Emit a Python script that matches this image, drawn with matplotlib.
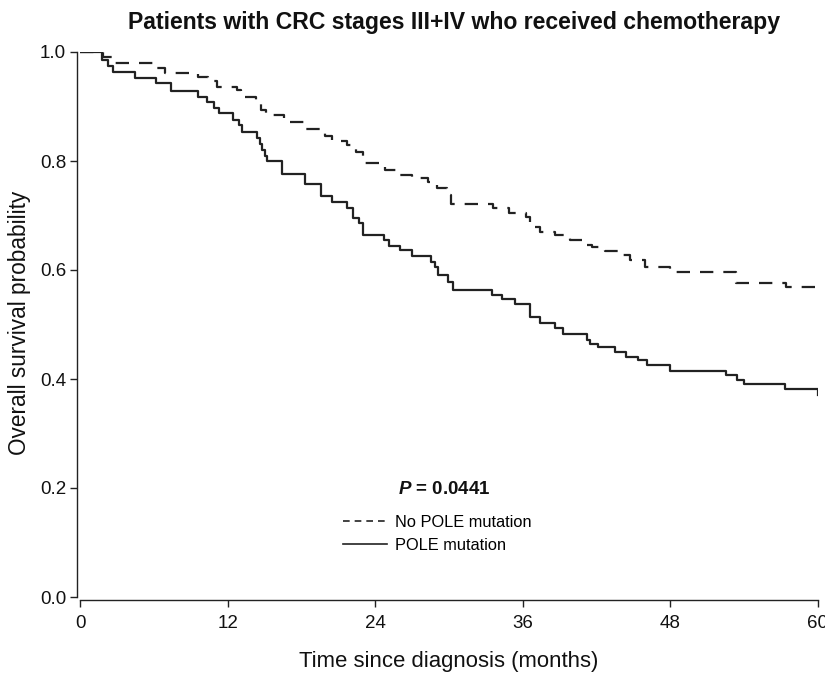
import matplotlib
matplotlib.use("Agg")
import matplotlib.pyplot as plt
from matplotlib.lines import Line2D

# Kaplan-Meier steps: (months, survival after the drop)
pole_t = [0, 1.8, 2.3, 2.7, 4.5, 6.2, 7.4, 9.6, 10.3, 10.9, 11.3, 12.4, 12.9, 13.2,
          14.4, 14.6, 14.8, 15.0, 15.2, 16.4, 18.3, 19.6, 20.5, 21.7, 22.2, 22.7,
          23.0, 24.7, 25.1, 26.0, 27.0, 28.5, 28.9, 29.1, 29.9, 30.3, 33.5, 34.3,
          35.4, 36.6, 37.4, 38.6, 39.3, 41.2, 41.5, 42.1, 43.5, 44.4, 45.4, 46.1,
          48.0, 52.5, 53.4, 54.0, 57.3, 60.0]
pole_s = [1.0, 0.985, 0.974, 0.963, 0.953, 0.943, 0.929, 0.918, 0.908, 0.898, 0.888,
          0.876, 0.866, 0.854, 0.842, 0.831, 0.820, 0.810, 0.800, 0.777, 0.758, 0.735,
          0.725, 0.714, 0.695, 0.686, 0.664, 0.655, 0.644, 0.637, 0.626, 0.615, 0.606,
          0.591, 0.578, 0.563, 0.555, 0.547, 0.537, 0.513, 0.502, 0.493, 0.483, 0.472,
          0.465, 0.458, 0.450, 0.441, 0.434, 0.425, 0.415, 0.407, 0.398, 0.391, 0.382,
          0.371]

nopole_t = [0, 1.9, 2.6, 6.0, 6.9, 9.6, 10.4, 11.1, 12.8, 13.1, 14.3, 14.7, 15.1,
            16.6, 18.4, 19.9, 20.5, 21.7, 22.4, 23.0, 24.8, 26.0, 27.0, 28.3, 29.0,
            29.8, 30.2, 33.6, 34.9, 36.3, 36.6, 37.4, 38.6, 39.8, 41.1, 41.6, 42.7,
            43.7, 44.7, 45.9, 48.0, 53.3, 57.4, 60.0]
nopole_s = [1.0, 0.990, 0.979, 0.970, 0.961, 0.955, 0.946, 0.936, 0.930, 0.918, 0.907,
            0.894, 0.884, 0.872, 0.858, 0.845, 0.836, 0.829, 0.817, 0.796, 0.783, 0.774,
            0.768, 0.762, 0.750, 0.738, 0.721, 0.713, 0.705, 0.698, 0.679, 0.670, 0.664,
            0.655, 0.646, 0.643, 0.635, 0.627, 0.619, 0.605, 0.597, 0.577, 0.568, 0.568]

x_ticks = [0, 12, 24, 36, 48, 60]
y_ticks = [0.0, 0.2, 0.4, 0.6, 0.8, 1.0]

W, H = 825, 673
font = ["Liberation Sans", "DejaVu Sans"]
ink = "#222222"

plt.rcParams["font.family"] = font
plt.rcParams["mathtext.fontset"] = "custom"
plt.rcParams["mathtext.it"] = "Liberation Sans:italic:bold"
plt.rcParams["mathtext.rm"] = "Liberation Sans:bold"

fig = plt.figure(figsize=(W / 100, H / 100), dpi=100)
ax = fig.add_axes([80 / W, 1 - 597 / H, (818 - 80) / W, (597 - 52) / H])

ax.step(nopole_t, nopole_s, where="post", color=ink, lw=1.6, dashes=(6.0, 4.5),
        label="No POLE mutation")
ax.step(pole_t, pole_s, where="post", color=ink, lw=1.6, label="POLE mutation")

ax.set_xlim(0, 60)
ax.set_ylim(0, 1)
ax.set_xticks(x_ticks)
ax.set_yticks(y_ticks)
ax.set_xticklabels([str(v) for v in x_ticks])
ax.set_yticklabels(["%.1f" % v for v in y_ticks])
ax.tick_params(direction="out", length=5, width=1.0, color=ink,
               labelsize=13.5, labelcolor="#111111")
ax.tick_params(axis="x", pad=6)
ax.tick_params(axis="y", pad=3)

for side in ["top", "right"]:
    ax.spines[side].set_visible(False)
for side in ["left", "bottom"]:
    ax.spines[side].set_position(("outward", 2))
    ax.spines[side].set_color(ink)
    ax.spines[side].set_linewidth(1.0)

fig.text(454 / W, 1 - 22 / H, "Patients with CRC stages III+IV who received chemotherapy",
         ha="center", va="center", fontsize=16.6, fontweight="bold", color="#111111")
fig.text(449 / W, 1 - 662 / H, "Time since diagnosis (months)", ha="center", va="center",
         fontsize=15.9, color="#111111")
fig.text(20 / W, 1 - 323 / H, "Overall survival probability", ha="center", va="center",
         rotation=90, fontsize=16.3, color="#111111")

fig.text(444 / W, 1 - 490 / H, r"$\mathit{P}$ = 0.0441", ha="center",
         va="center", fontsize=13.5, fontweight="bold", color="#111111")

handles = [Line2D([], [], color=ink, lw=1.2, dashes=(4, 3)),
           Line2D([], [], color=ink, lw=1.2)]
fig.legend(handles, ["No POLE mutation", "POLE mutation"], loc="upper left",
           bbox_to_anchor=(343 / W, 1 - 515 / H), frameon=False,
           prop={"size": 11.8}, handlelength=2.7, handletextpad=0.45,
           labelspacing=0.5, borderpad=0, borderaxespad=0)

fig.savefig("out.png", dpi=100, facecolor="white")
